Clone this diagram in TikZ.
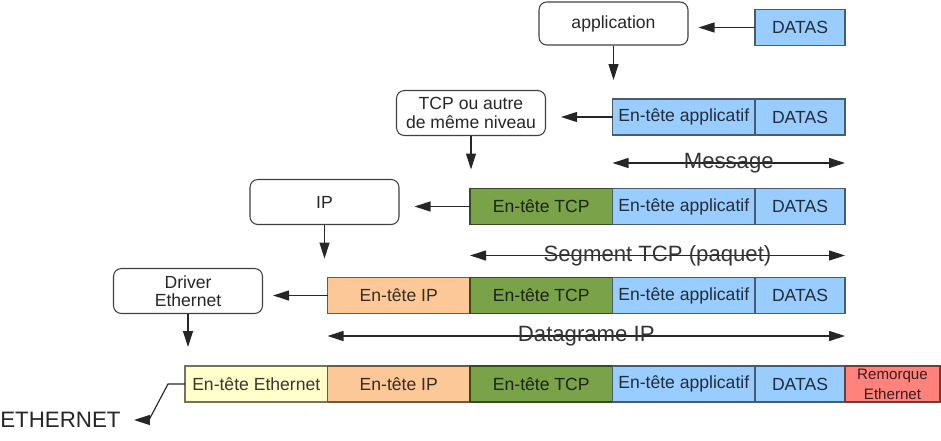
\documentclass[tikz,border=0pt]{standalone}
\usepackage{fontspec}
\setmainfont{Liberation Sans}
\usetikzlibrary{arrows.meta}
\usetikzlibrary{positioning}

\definecolor{appblue}{RGB}{153,204,255}
\definecolor{tcpgreen}{RGB}{122,162,72}
\definecolor{iporange}{RGB}{252,200,152}
\definecolor{ethyellow}{RGB}{255,255,204}
\definecolor{trailred}{RGB}{255,130,125}

\begin{document}
\begin{tikzpicture}[
  >={Triangle[length=0.32cm,width=0.2cm]},
  cell/.style={draw=#1!45!black, fill=#1, text=#1!22!black, line width=0.6pt,
    minimum height=0.72cm, inner sep=0pt, outer sep=0pt, anchor=west,
    font=\fontsize{10}{12}\selectfont},
  hdr/.style={cell=#1, minimum width=2.85cm},
  data/.style={cell=appblue, minimum width=1.80cm},
  layer/.style={draw=black!75, text=black!85, rounded corners=4.5pt, line width=0.6pt,
    minimum width=2.98cm, minimum height=0.9cm, align=center,
    font=\fontsize{10}{10.5}\selectfont},
  link/.style={->, line width=0.65pt, black!85},
  span/.style={<->, line width=0.65pt, black!85},
  spanlabel/.style={font=\fontsize{12.6}{14}\selectfont, text=black!80}
]
\useasboundingbox (0,0) rectangle (18.82,-8.8);

\node[layer, minimum height=0.86cm] (app) at (12.27,-0.47) {application};
\node[layer] (tcp) at (9.42,-2.26) {TCP ou autre\\de même niveau};
\node[layer] (ip) at (6.49,-4.04) {IP};
\node[layer] (drv) at (3.76,-5.82) {Driver\\Ethernet};

\node[data] (d0) at (15.10,-0.55) {DATAS};

\node[hdr=appblue] (a1) at (12.25,-2.34) {En-tête applicatif};
\node[data, right=0pt of a1] (d1) {DATAS};

\node[hdr=tcpgreen] (t2) at (9.40,-4.13) {En-tête TCP};
\node[hdr=appblue, right=0pt of t2] (a2) {En-tête applicatif};
\node[data, right=0pt of a2] (d2) {DATAS};

\node[hdr=iporange] (i3) at (6.55,-5.91) {En-tête IP};
\node[hdr=tcpgreen, right=0pt of i3] (t3) {En-tête TCP};
\node[hdr=appblue, right=0pt of t3] (a3) {En-tête applicatif};
\node[data, right=0pt of a3] (d3) {DATAS};

\node[hdr=ethyellow] (e4) at (3.70,-7.68) {En-tête Ethernet};
\node[hdr=iporange, right=0pt of e4] (i4) {En-tête IP};
\node[hdr=tcpgreen, right=0pt of i4] (t4) {En-tête TCP};
\node[hdr=appblue, right=0pt of t4] (a4) {En-tête applicatif};
\node[data, right=0pt of a4] (d4) {DATAS};
\node[cell=trailred, minimum width=1.90cm, align=center,
  font=\fontsize{8.6}{11.5}\selectfont, right=0pt of d4] (r4) {Remorque\\Ethernet};

\node[anchor=west, inner sep=0pt, text=black!85,
  font=\fontsize{12.7}{14}\selectfont] (eth) at (0,-8.4) {ETHERNET};

\draw[link, shorten >=0.2cm] (d0.west) -- (d0.west -| app.east);
\draw[link, shorten >=0.38cm] (app.south) -- (app.south |- a1.north);
\draw[link, shorten >=0.3cm] (a1.west) -- (a1.west -| tcp.east);
\draw[link, shorten >=0.38cm] (tcp.south) -- (tcp.south |- t2.north);
\draw[link, shorten >=0.3cm] (t2.west) -- (t2.west -| ip.east);
\draw[link, shorten >=0.38cm] (ip.south) -- (ip.south |- i3.north);
\draw[link, shorten >=0.2cm] (i3.west) -- (i3.west -| drv.east);
\draw[link, shorten >=0.38cm] (drv.south) -- (drv.south |- e4.north);
\draw[link] (e4.west) -- ++(-0.34,0) -- ([xshift=0.56cm]eth.east)
  -- ([xshift=0.26cm]eth.east);

\draw[span] ([yshift=-0.56cm]a1.south west) -- ([yshift=-0.56cm]d1.south east)
  node[spanlabel, midway] {Message};
\draw[span] ([yshift=-0.62cm]t2.south west) -- ([yshift=-0.62cm]d2.south east)
  node[spanlabel, midway] {Segment TCP (paquet)};
\draw[span] ([yshift=-0.45cm]i3.south west) -- ([yshift=-0.45cm]d3.south east)
  node[spanlabel, midway] {Datagrame IP};
\end{tikzpicture}
\end{document}
